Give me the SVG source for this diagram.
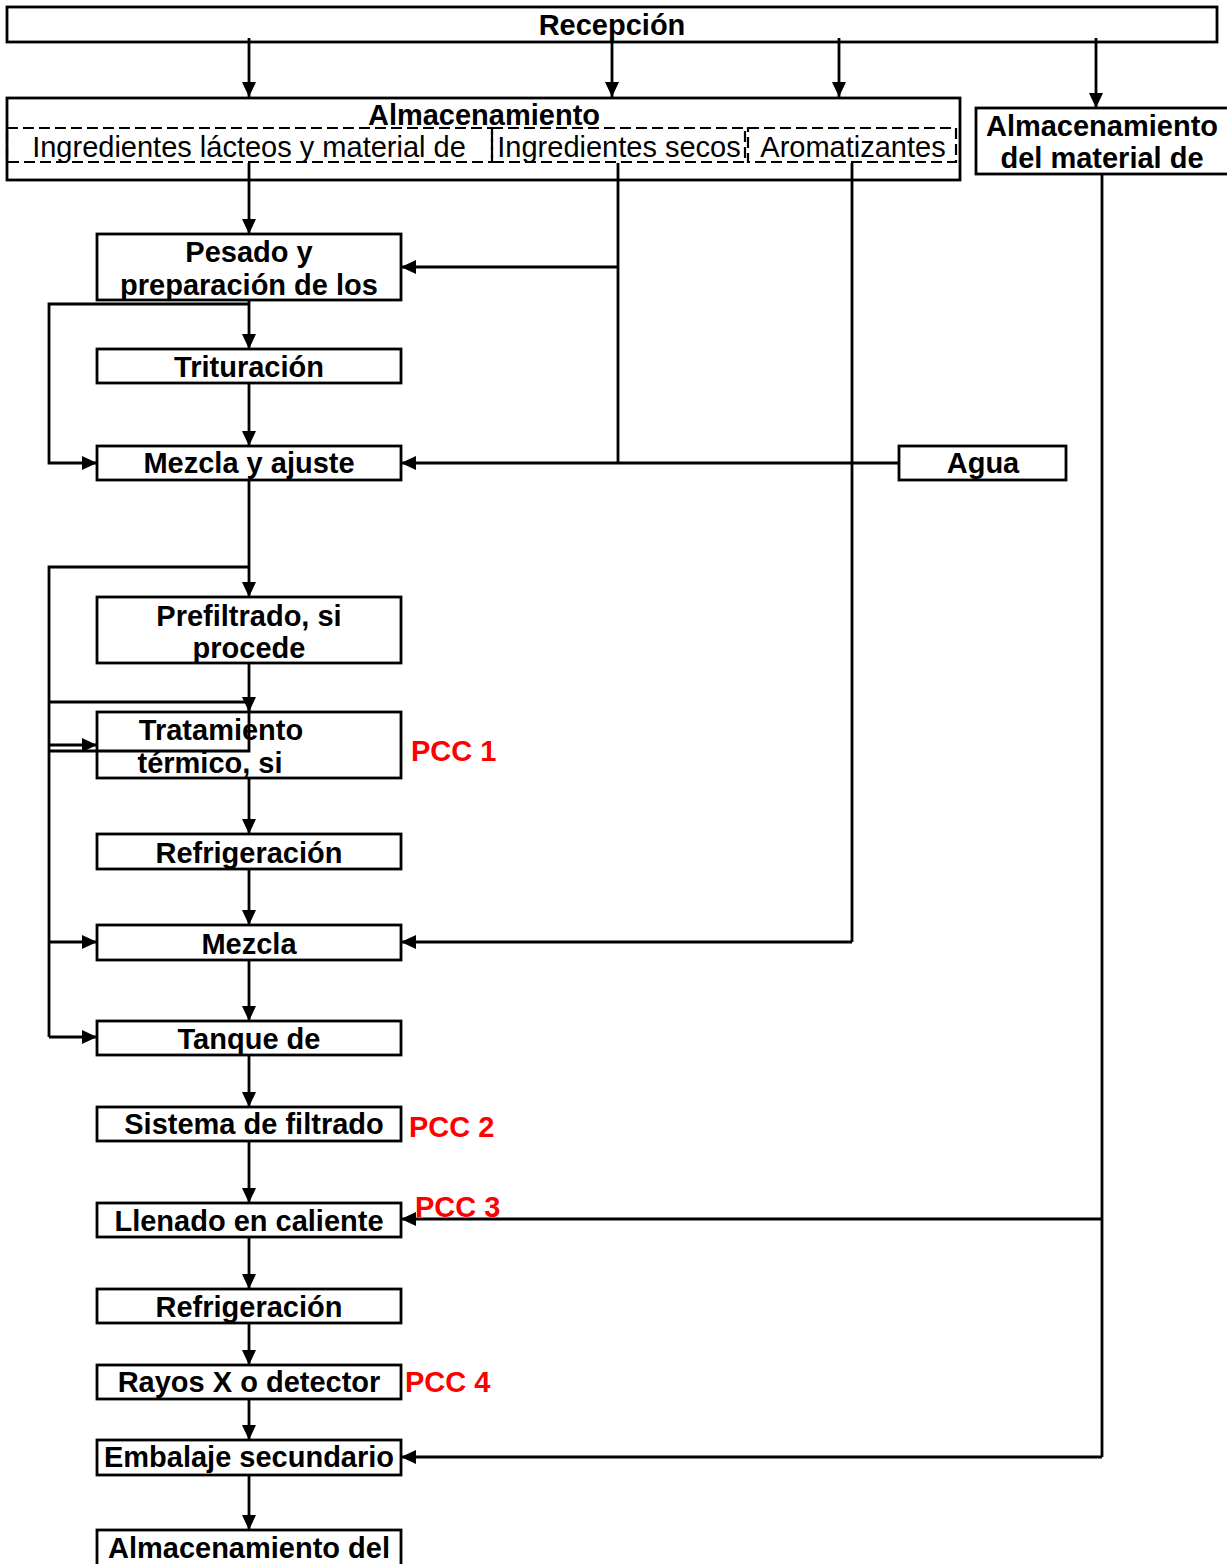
<svg xmlns="http://www.w3.org/2000/svg" width="1227" height="1564" viewBox="0 0 1227 1564">
<defs>
<marker id="ah" markerWidth="15" markerHeight="14" refX="15" refY="7" orient="auto" markerUnits="userSpaceOnUse"><path d="M0,0 L15,7 L0,14 z" fill="#000"/></marker>
<style>
.box{fill:#fff;stroke:#000;stroke-width:2.8}
.dash{fill:none;stroke:#000;stroke-width:2.2;stroke-dasharray:11 5}
.t{font-family:"Liberation Sans",Arial,sans-serif;font-size:29px;font-weight:bold;fill:#000;text-anchor:middle}
.r{font-family:"Liberation Sans",Arial,sans-serif;font-size:29px;fill:#000;text-anchor:middle}
.pcc{font-family:"Liberation Sans",Arial,sans-serif;font-size:29px;font-weight:bold;fill:#ff0000}
.c{fill:none;stroke:#000;stroke-width:2.8}
.a{fill:none;stroke:#000;stroke-width:2.8;marker-end:url(#ah)}
</style>
</defs>
<rect width="1227" height="1564" fill="#fff"/>

<g id="recepcion"><rect class="box" x="7" y="7" width="1210" height="35"/><text class="t" x="612" y="35">Recepción</text></g>

<g id="almacenamiento"><rect class="box" x="7" y="98" width="953" height="82"/><text class="t" x="484" y="125">Almacenamiento</text>
<rect class="dash" x="7" y="128" width="485" height="34"/>
<rect class="dash" x="492" y="128" width="253" height="34"/>
<rect class="dash" x="748" y="128" width="208" height="34"/>
<text class="r" x="249" y="157">Ingredientes lácteos y material de</text>
<text class="r" x="619" y="157">Ingredientes secos</text>
<text class="r" x="853" y="157">Aromatizantes</text></g>

<g id="alm-material"><rect class="box" x="976" y="108" width="260" height="66"/><text class="t" x="1102" y="136">Almacenamiento</text><text class="t" x="1102" y="168">del material de</text></g>

<g id="pesado"><rect class="box" x="97" y="234" width="304" height="66"/><text class="t" x="249" y="262">Pesado y</text><text class="t" x="249" y="295">preparación de los</text></g>
<g id="trituracion"><rect class="box" x="97" y="349" width="304" height="34"/><text class="t" x="249" y="377">Trituración</text></g>
<g id="mezcla-ajuste"><rect class="box" x="97" y="446" width="304" height="34"/><text class="t" x="249" y="473">Mezcla y ajuste</text></g>
<g id="agua"><rect class="box" x="899" y="446" width="167" height="34"/><text class="t" x="983" y="473">Agua</text></g>
<g id="prefiltrado"><rect class="box" x="97" y="597" width="304" height="66"/><text class="t" x="249" y="626">Prefiltrado, si</text><text class="t" x="249" y="658">procede</text></g>
<g id="tratamiento"><rect class="box" x="97" y="712" width="304" height="66"/><text class="t" x="221" y="740">Tratamiento</text><text class="t" x="210" y="773">térmico, si</text></g>
<text class="pcc" x="411" y="761">PCC 1</text>
<g id="refrigeracion1"><rect class="box" x="97" y="834" width="304" height="35"/><text class="t" x="249" y="863">Refrigeración</text></g>
<g id="mezcla"><rect class="box" x="97" y="925" width="304" height="35"/><text class="t" x="249" y="954">Mezcla</text></g>
<g id="tanque"><rect class="box" x="97" y="1021" width="304" height="34"/><text class="t" x="249" y="1049">Tanque de</text></g>
<g id="sistema"><rect class="box" x="97" y="1107" width="304" height="34"/><text class="t" x="254" y="1134">Sistema de filtrado</text></g>
<text class="pcc" x="409" y="1137">PCC 2</text>
<g id="llenado"><rect class="box" x="97" y="1203" width="304" height="34"/><text class="t" x="249" y="1231">Llenado en caliente</text></g>
<g id="refrigeracion2"><rect class="box" x="97" y="1289" width="304" height="34"/><text class="t" x="249" y="1317">Refrigeración</text></g>
<g id="rayos"><rect class="box" x="97" y="1365" width="304" height="34"/><text class="t" x="249" y="1392">Rayos X o detector</text></g>
<text class="pcc" x="405" y="1392">PCC 4</text>
<g id="embalaje"><rect class="box" x="97" y="1440" width="304" height="35"/><text class="t" x="249" y="1467">Embalaje secundario</text></g>
<g id="alm-producto"><rect class="box" x="97" y="1530" width="304" height="45"/><text class="t" x="249" y="1558">Almacenamiento del</text></g>

<g id="connectors">
<path class="a" d="M249 38 V97"/>
<path class="a" d="M612 38 V97"/>
<path class="a" d="M839 38 V97"/>
<path class="a" d="M1096 38 V108"/>
<path class="a" d="M249 163 V234"/>
<path class="c" d="M618 163 V463"/>
<path class="a" d="M618 267 H401"/>
<path class="a" d="M249 300 V349"/>
<path class="a" d="M249 304 H49 V463 H97"/>
<path class="a" d="M249 383 V446"/>
<path class="a" d="M899 463 H401"/>
<path class="a" d="M249 480 V597"/>
<path class="c" d="M249 567 H49 V1037"/>
<path class="a" d="M249 663 V712"/>
<path class="c" d="M49 702 H249"/>
<path class="c" d="M49 751 H249 V700"/>
<path class="a" d="M49 745 H97"/>
<path class="a" d="M249 778 V834"/>
<path class="a" d="M249 869 V925"/>
<path class="c" d="M852 163 V942"/>
<path class="a" d="M852 942 H401"/>
<path class="a" d="M49 942 H97"/>
<path class="a" d="M249 960 V1021"/>
<path class="a" d="M49 1037 H97"/>
<path class="a" d="M249 1055 V1107"/>
<path class="a" d="M249 1141 V1203"/>
<path class="c" d="M1102 174 V1457"/>
<path class="a" d="M1102 1219 H401"/>
<path class="a" d="M1102 1457 H401"/>
<path class="a" d="M249 1237 V1289"/>
<path class="a" d="M249 1323 V1365"/>
<path class="a" d="M249 1399 V1440"/>
<path class="a" d="M249 1475 V1530"/>
</g>
<text class="pcc" x="415" y="1217">PCC 3</text>
</svg>
